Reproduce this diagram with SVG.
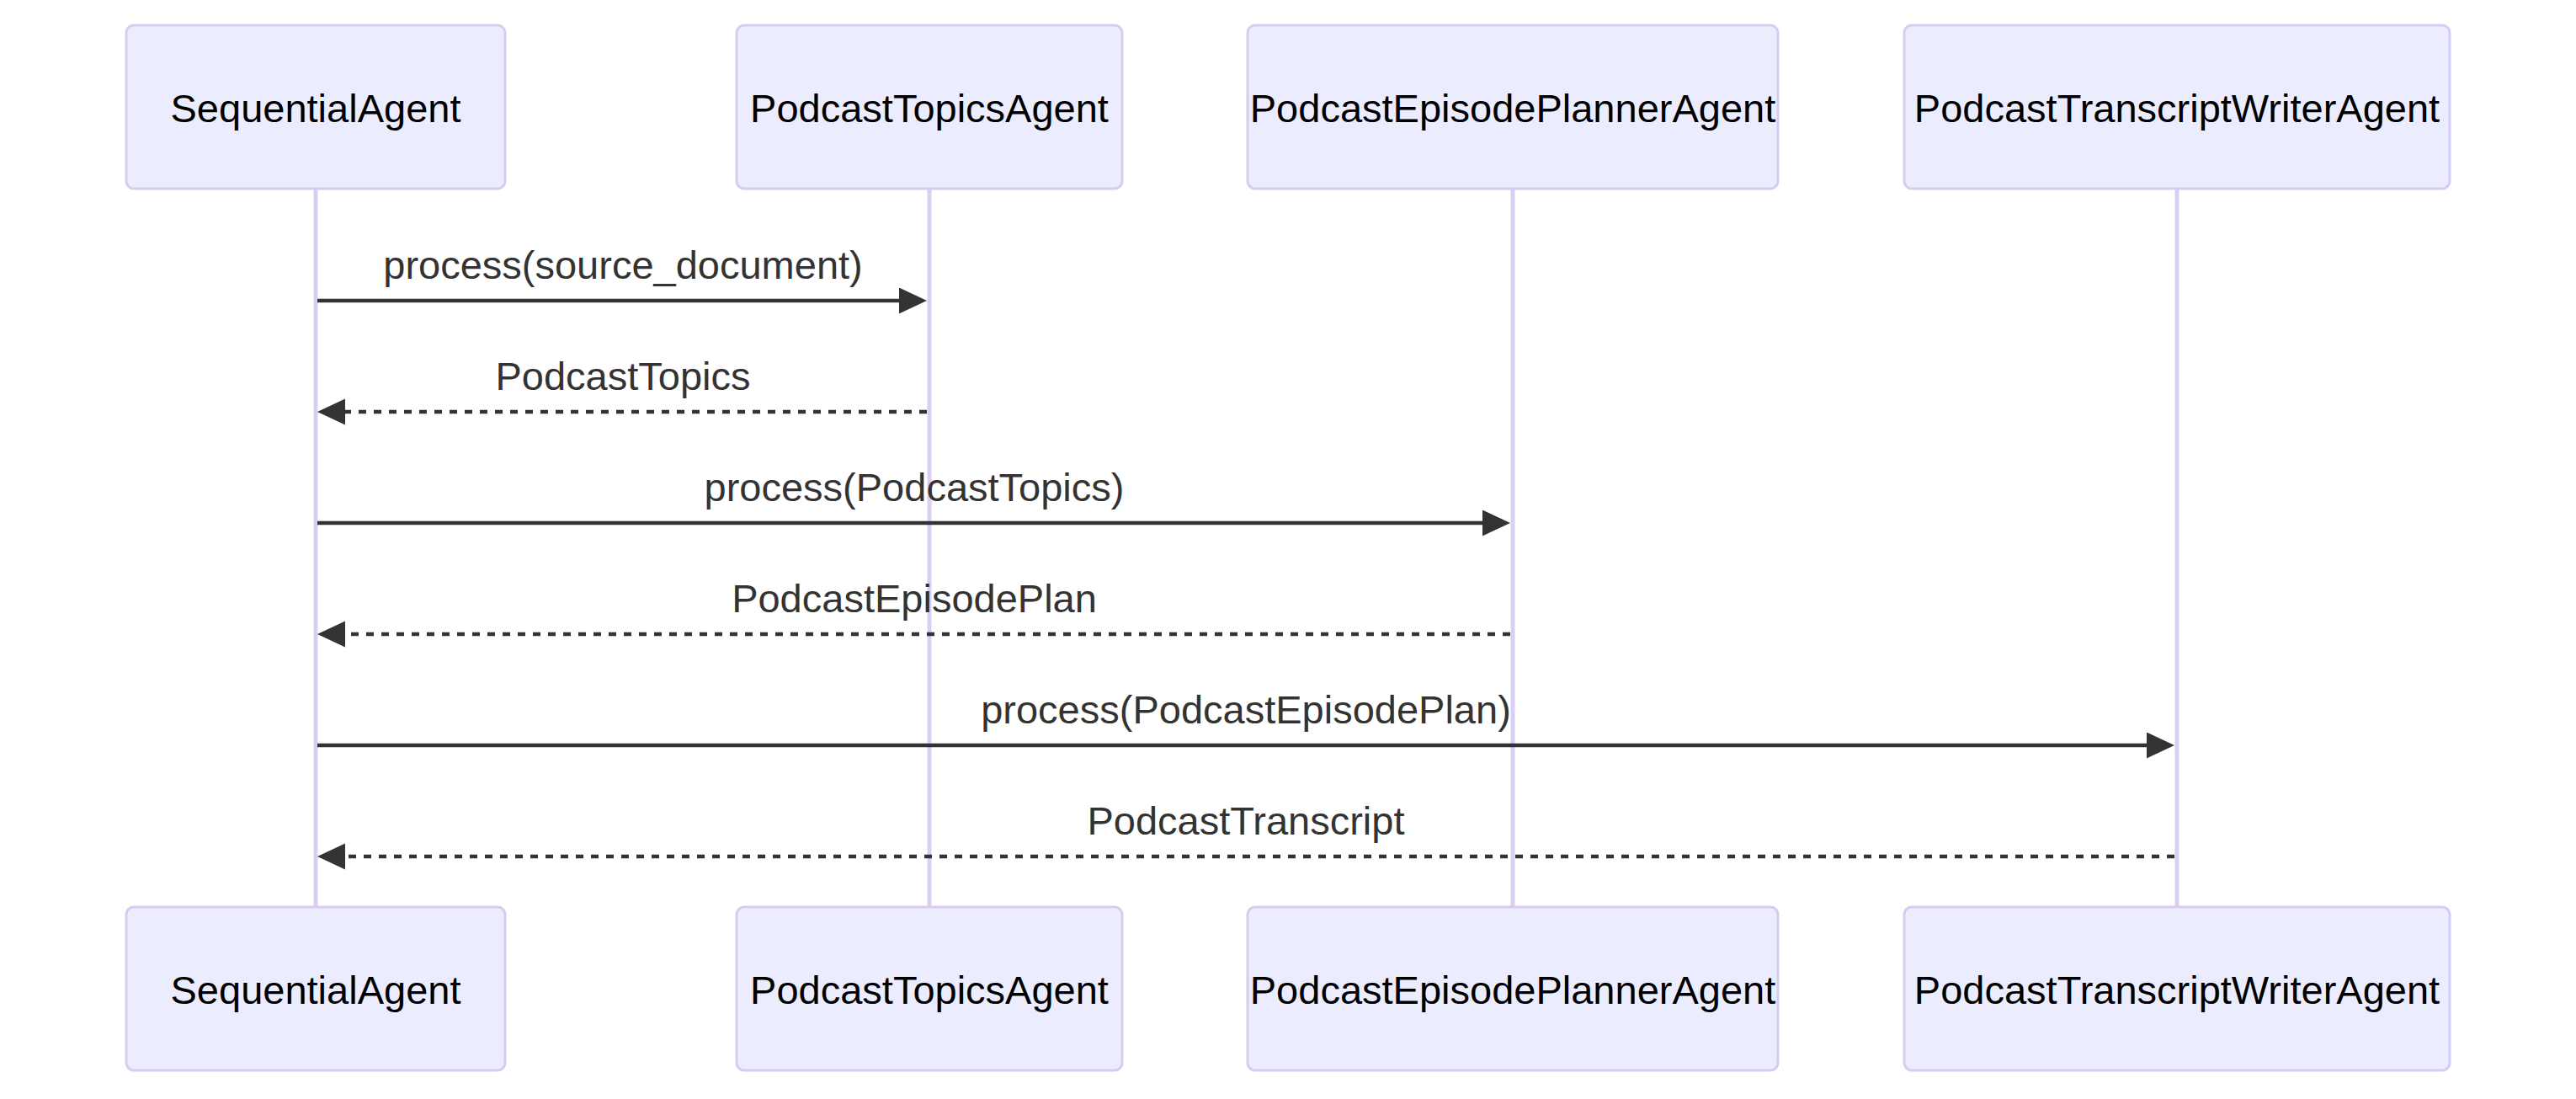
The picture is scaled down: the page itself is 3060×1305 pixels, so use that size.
<svg xmlns="http://www.w3.org/2000/svg" width="3060" height="1305" viewBox="0 0 3060 1305">
<style>
.actor{fill:#ECECFF;stroke:#D6CCF2;stroke-width:3}
.atext{font-family:"Liberation Sans",Arial,sans-serif;font-size:47px;fill:#000;text-anchor:middle;dominant-baseline:central}
.life{stroke:#D9CFF3;stroke-width:5}
.msg{stroke:#333;stroke-width:4.5;fill:none}
.dash{stroke-dasharray:9,9}
.mtext{font-family:"Liberation Sans",Arial,sans-serif;font-size:47px;fill:#333;text-anchor:middle}
</style>
<defs>
<marker id="arrow" markerUnits="userSpaceOnUse" markerWidth="34" markerHeight="32" refX="27" refY="15.5" orient="auto">
<path d="M0,0 L33,15.5 L0,31 z" fill="#333"/>
</marker>
</defs>
<rect width="3060" height="1305" fill="#fff"/>
<g id="lifelines">
<line class="life" x1="375" y1="224" x2="375" y2="1077"/>
<line class="life" x1="1104" y1="224" x2="1104" y2="1077"/>
<line class="life" x1="1797" y1="224" x2="1797" y2="1077"/>
<line class="life" x1="2586" y1="224" x2="2586" y2="1077"/>
</g>
<g id="actor-SequentialAgent">
<rect class="actor" x="150" y="30" width="450" height="194" rx="9"/>
<text class="atext" x="375" y="128">SequentialAgent</text>
</g>
<g id="actor-PodcastTopicsAgent">
<rect class="actor" x="875" y="30" width="458" height="194" rx="9"/>
<text class="atext" x="1104" y="128">PodcastTopicsAgent</text>
</g>
<g id="actor-PodcastEpisodePlannerAgent">
<rect class="actor" x="1482" y="30" width="630" height="194" rx="9"/>
<text class="atext" x="1797" y="128">PodcastEpisodePlannerAgent</text>
</g>
<g id="actor-PodcastTranscriptWriterAgent">
<rect class="actor" x="2262" y="30" width="648" height="194" rx="9"/>
<text class="atext" x="2586" y="128">PodcastTranscriptWriterAgent</text>
</g>
<g id="actor-SequentialAgent-bottom">
<rect class="actor" x="150" y="1077" width="450" height="194" rx="9"/>
<text class="atext" x="375" y="1175">SequentialAgent</text>
</g>
<g id="actor-PodcastTopicsAgent-bottom">
<rect class="actor" x="875" y="1077" width="458" height="194" rx="9"/>
<text class="atext" x="1104" y="1175">PodcastTopicsAgent</text>
</g>
<g id="actor-PodcastEpisodePlannerAgent-bottom">
<rect class="actor" x="1482" y="1077" width="630" height="194" rx="9"/>
<text class="atext" x="1797" y="1175">PodcastEpisodePlannerAgent</text>
</g>
<g id="actor-PodcastTranscriptWriterAgent-bottom">
<rect class="actor" x="2262" y="1077" width="648" height="194" rx="9"/>
<text class="atext" x="2586" y="1175">PodcastTranscriptWriterAgent</text>
</g>
<g id="connectors">
<line class="msg" x1="377" y1="357" x2="1095" y2="357" marker-end="url(#arrow)"/>
<text class="mtext" x="740" y="331">process(source_document)</text>
<line class="msg dash" x1="1101" y1="489" x2="383" y2="489" marker-end="url(#arrow)"/>
<text class="mtext" x="740" y="463">PodcastTopics</text>
<line class="msg" x1="377" y1="621" x2="1788" y2="621" marker-end="url(#arrow)"/>
<text class="mtext" x="1086" y="595">process(PodcastTopics)</text>
<line class="msg dash" x1="1794" y1="753" x2="383" y2="753" marker-end="url(#arrow)"/>
<text class="mtext" x="1086" y="727">PodcastEpisodePlan</text>
<line class="msg" x1="377" y1="885" x2="2577" y2="885" marker-end="url(#arrow)"/>
<text class="mtext" x="1480" y="859">process(PodcastEpisodePlan)</text>
<line class="msg dash" x1="2583" y1="1017" x2="383" y2="1017" marker-end="url(#arrow)"/>
<text class="mtext" x="1480" y="991">PodcastTranscript</text>
</g>
</svg>
